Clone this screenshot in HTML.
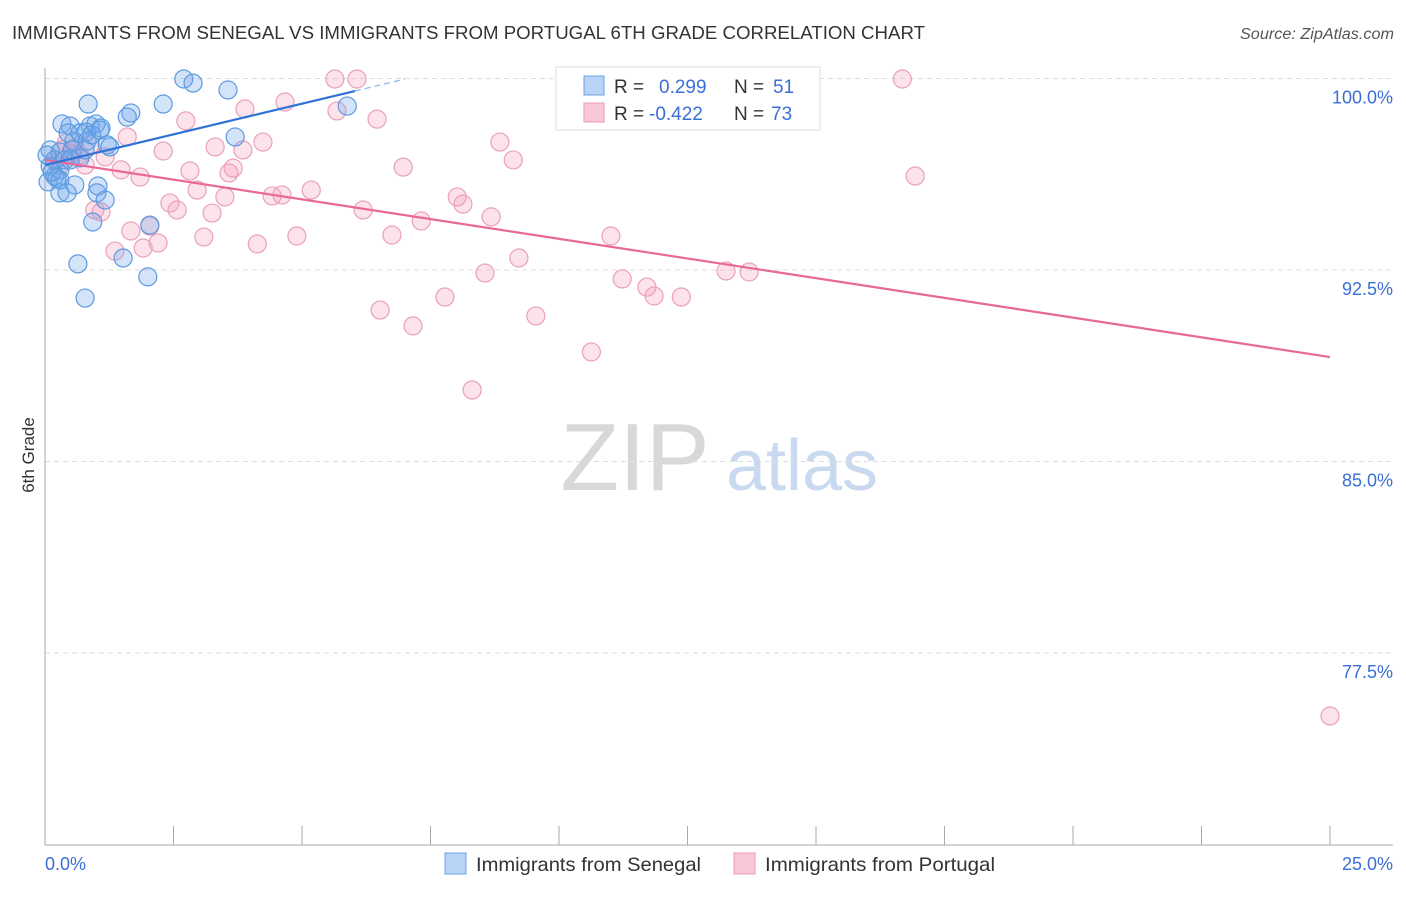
<!DOCTYPE html>
<html><head><meta charset="utf-8"><style>
body{margin:0;background:#fff;font-family:"Liberation Sans",sans-serif}
svg text{font-family:"Liberation Sans",sans-serif}
</style></head><body>
<svg id="c" width="1406" height="892">
<text x="12" y="39" font-size="18" fill="#333" textLength="913" lengthAdjust="spacingAndGlyphs">IMMIGRANTS FROM SENEGAL VS IMMIGRANTS FROM PORTUGAL 6TH GRADE CORRELATION CHART</text>
<text x="1240" y="39" font-size="15.5" fill="#555" font-style="italic" textLength="154" lengthAdjust="spacingAndGlyphs">Source: ZipAtlas.com</text>
<g>
<text x="635" y="490" font-size="96" fill="#d8d8d8" font-family="Liberation Serif" text-anchor="middle">ZIP</text>
<text x="802" y="490" font-size="72" fill="#c9daf0" text-anchor="middle">atlas</text>
</g>
<g id="grid"></g><g id="axes"></g><g id="pts"></g><g id="lines"></g>
<text transform="translate(34,455) rotate(-90)" font-size="17" fill="#333" text-anchor="middle">6th Grade</text>
<g>
<rect x="556" y="67" width="264" height="63" fill="#fff" stroke="#ddd"/>
<rect x="584" y="76" width="20" height="19" fill="#b8d3f4" stroke="#6aa2e4"/>
<rect x="584" y="103" width="20" height="19" fill="#f9c8d8" stroke="#e99ab4"/>
<text x="614" y="93" font-size="19" fill="#333">R = <tspan x="659" fill="#3a6fd6">0.299</tspan><tspan x="734" fill="#333">N = </tspan><tspan x="773" fill="#3a6fd6">51</tspan></text>
<text x="614" y="120" font-size="19" fill="#333">R = <tspan x="649" fill="#3a6fd6">-0.422</tspan><tspan x="734" fill="#333">N = </tspan><tspan x="771" fill="#3a6fd6">73</tspan></text>
</g>
<g>
<rect x="445" y="853" width="21" height="21" fill="#b8d3f4" stroke="#6aa2e4"/>
<text x="476" y="871" font-size="19.5" fill="#333" textLength="225" lengthAdjust="spacingAndGlyphs">Immigrants from Senegal</text>
<rect x="734" y="853" width="21" height="21" fill="#f9c8d8" stroke="#e99ab4"/>
<text x="765" y="871" font-size="19.5" fill="#333" textLength="230" lengthAdjust="spacingAndGlyphs">Immigrants from Portugal</text>
</g>
</svg>
<script>
const yTicks=[100,92.5,85,77.5];
const yTickLabels=["100.0%","92.5%","85.0%","77.5%"];
const xEndLabels=["0.0%","25.0%"];
const senegalX=[2.70,2.88,3.56,5.88,0.84,2.30,1.67,1.60,0.33,0.49,0.88,0.99,1.09,0.45,0.68,0.80,3.70,0.56,0.82,1.21,1.26,0.10,0.29,0.53,0.68,0.10,0.29,0.19,0.06,0.29,0.58,1.03,1.01,0.29,0.43,1.17,0.93,2.04,1.52,0.64,2.00,0.78,0.19,0.39,0.04,0.14,0.23,0.78,0.49,0.91,1.07];
const senegalY=[99.98,99.82,99.55,98.92,99.00,99.00,98.65,98.49,98.22,98.14,98.14,98.22,98.06,97.87,97.87,97.90,97.71,97.55,97.55,97.40,97.32,97.20,97.12,97.20,96.89,96.57,96.42,96.18,95.95,96.02,95.83,95.79,95.52,95.52,95.52,95.24,94.38,94.26,92.97,92.74,92.23,91.40,96.81,96.81,97.00,96.34,96.10,97.20,96.81,97.79,97.98];
const portugalX=[5.64,6.07,16.68,13.93,5.68,4.67,3.89,6.46,2.74,1.60,4.24,3.31,3.85,2.30,8.85,9.11,6.97,1.17,2.82,3.66,3.58,1.48,1.85,0.33,0.49,0.68,0.19,0.78,16.93,5.18,4.61,4.42,2.96,3.50,2.43,2.57,0.97,1.09,3.25,6.19,8.02,8.13,8.68,7.32,1.67,2.04,3.09,4.90,6.75,11.01,1.36,1.91,2.20,4.13,9.22,8.56,11.23,11.71,11.85,12.38,13.25,13.70,7.78,6.52,9.55,7.16,10.63,8.31,25.0,0.29,0.41,0.58,0.88];
const portugalY=[99.98,99.98,99.98,99.98,98.73,99.08,98.81,98.41,98.34,97.71,97.51,97.32,97.20,97.16,97.51,96.81,96.53,96.93,96.38,96.49,96.30,96.42,96.14,97.20,97.08,97.00,96.81,96.61,96.18,95.63,95.44,95.40,95.63,95.36,95.12,94.85,94.85,94.77,94.73,94.85,95.36,95.08,94.58,94.42,94.03,94.22,93.79,93.83,93.87,93.83,93.24,93.36,93.56,93.52,92.97,92.38,92.15,91.83,91.48,91.44,92.46,92.42,91.44,90.93,90.70,90.31,89.29,87.80,75.03,96.61,97.47,97.28,97.40];
const senegalTrend=[[0,96.61],[6.03,99.51]];
const senegalTrendExt=[[6.03,99.51],[7.0,99.98]];
const portugalTrend=[[0,96.81],[25,89.09]];
const X=v=>45+v/25*1285, Y=v=>78.5+(100-v)*25.53;
const NS="http://www.w3.org/2000/svg";
function mk(p,t,a){const e=document.createElementNS(NS,t);for(const k in a)e.setAttribute(k,a[k]);document.getElementById(p).appendChild(e);return e;}
yTicks.forEach((t,i)=>{
 const l=mk('grid','line',{x1:45,x2:1393,y1:Y(t),y2:Y(t),stroke:'#ddd','stroke-dasharray':'5,4'});
 
 
 const tx=mk('grid','text',{x:1393,y:Y(t)+25,'font-size':18,fill:'#3a6fd6','text-anchor':'end'});
 tx.textContent=yTickLabels[i];
 
 
});
const ax=mk('axes','line',{x1:45,x2:1393,y1:845,y2:845,stroke:'#aaa'});


const ay=mk('axes','line',{x1:45,x2:45,y1:68,y2:845,stroke:'#aaa'});


for(let i=0;i<=10;i++){const v=i*2.5;const t=mk('axes','line',{x1:X(v),x2:X(v),y1:826,y2:845,stroke:'#aaa'});
 
 }
[[0,'start',45],[25,'end',1393]].forEach((d,i)=>{const t=mk('axes','text',{x:d[2],y:870,'font-size':18,fill:'#3a6fd6','text-anchor':d[1]});t.textContent=xEndLabels[i];
 
 });
portugalX.forEach((x,i)=>{const c=mk('pts','circle',{cx:X(x),cy:Y(portugalY[i]),r:9,fill:'rgba(245,160,190,0.3)',stroke:'#eaa0b9','stroke-width':1.2});
 
 });
senegalX.forEach((x,i)=>{const c=mk('pts','circle',{cx:X(x),cy:Y(senegalY[i]),r:9,fill:'rgba(110,165,235,0.3)',stroke:'#5d9ae0','stroke-width':1.2});
 
 });
function ln(d,col,w,dash,name){const l=mk('lines','line',{x1:X(d[0][0]),y1:Y(d[0][1]),x2:X(d[1][0]),y2:Y(d[1][1]),stroke:col,'stroke-width':w});if(dash)l.setAttribute('stroke-dasharray',dash);
 
 }
ln(portugalTrend,'#e8689a',2.2,null,'portugal-trendline');
ln(senegalTrend,'#2f72d6',2.2,null,'senegal-trendline');
ln(senegalTrendExt,'#8fb3e8',1.2,'6,4','senegal-trendline-extension');
</script>
</body></html>
